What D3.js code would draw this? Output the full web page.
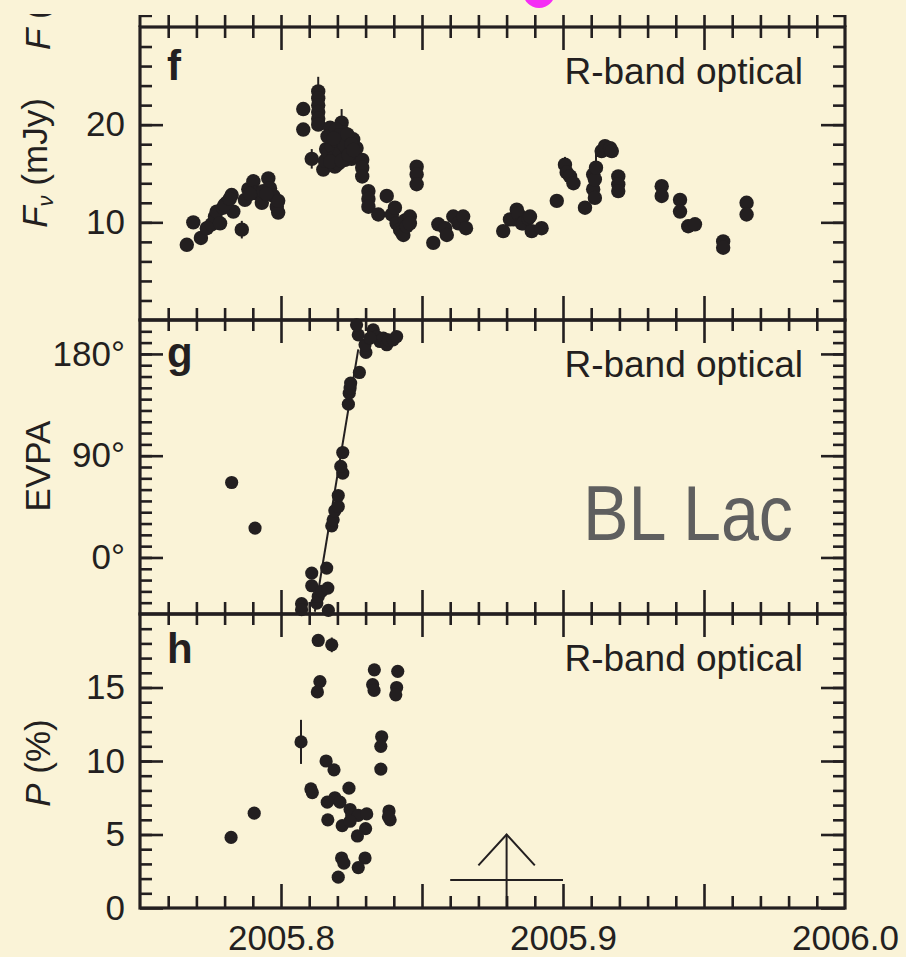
<!DOCTYPE html>
<html>
<head>
<meta charset="utf-8">
<script src="https://cdn.jsdelivr.net/npm/d3@7"></script>
<style>
  body { margin: 0; background: #faf3d7; }
  svg text { font-family: "Liberation Sans", Arial, Helvetica, sans-serif; fill: #231f20; }
</style>
</head>
<body>
<div id="chart"></div>
<script>

// ---- panel f : R-band flux (mJy) ----
var fluxTime = [
  2005.7666, 2005.7689, 2005.7716, 2005.7737, 2005.7754, 2005.7766, 2005.7772, 2005.7784, 2005.7795, 2005.7807,
  2005.7825, 2005.7831, 2005.7861, 2005.7872, 2005.7884, 2005.7902, 2005.7908, 2005.7932, 2005.7937, 2005.7955,
  2005.7961, 2005.7973, 2005.7985, 2005.7990, 2005.7990, 2005.8079, 2005.8079, 2005.8109, 2005.8132, 2005.8132,
  2005.8132, 2005.8132, 2005.8132, 2005.8132, 2005.8150, 2005.8156, 2005.8160, 2005.8168, 2005.8174, 2005.8180,
  2005.8185, 2005.8191, 2005.8198, 2005.8203, 2005.8209, 2005.8215, 2005.8221, 2005.8227, 2005.8233, 2005.8239,
  2005.8245, 2005.8250, 2005.8256, 2005.8262, 2005.8268, 2005.8288, 2005.8288, 2005.8288, 2005.8310, 2005.8310,
  2005.8310, 2005.8345, 2005.8375, 2005.8393, 2005.8404, 2005.8410, 2005.8422, 2005.8428, 2005.8434, 2005.8440,
  2005.8446, 2005.8457, 2005.8457, 2005.8481, 2005.8481, 2005.8481, 2005.8540, 2005.8558, 2005.8582, 2005.8588,
  2005.8611, 2005.8629, 2005.8646, 2005.8656, 2005.8788, 2005.8812, 2005.8824, 2005.8836, 2005.8841, 2005.8854,
  2005.8859, 2005.8877, 2005.8883, 2005.8889, 2005.8924, 2005.8978, 2005.9007, 2005.9013, 2005.9025, 2005.9037,
  2005.9078, 2005.9107, 2005.9107, 2005.9113, 2005.9113, 2005.9117, 2005.9137, 2005.9149, 2005.9167, 2005.9173,
  2005.9196, 2005.9196, 2005.9196, 2005.9350, 2005.9350, 2005.9415, 2005.9415, 2005.9444, 2005.9468, 2005.9568,
  2005.9568, 2005.9651, 2005.9651, 2005.8165, 2005.8195, 2005.8205, 2005.8225, 2005.8235, 2005.8250, 2005.8175,
  2005.8215, 2005.8240, 2005.8187, 2005.8257, 2005.7800, 2005.7818, 2005.7890, 2005.7948
];
var fluxVal = [
  7.7, 10.0, 8.4, 9.4, 9.8, 10.6, 11.1, 9.9, 11.5, 12.0,
  12.8, 11.1, 9.25, 12.3, 13.4, 14.2, 13.0, 12.0, 13.2, 14.5,
  13.5, 12.7, 11.6, 11.0, 12.2, 21.6, 19.5, 16.5, 23.4, 22.7,
  22.0, 21.3, 20.6, 20.0, 15.4, 16.3, 17.5, 17.1, 19.7, 17.8,
  16.6, 15.7, 18.3, 16.0, 17.1, 20.2, 19.2, 16.4, 17.6, 18.1,
  17.1, 16.5, 18.5, 16.8, 17.6, 16.4, 15.6, 14.7, 13.2, 12.4,
  11.6, 10.8, 12.7, 10.8, 11.5, 9.9, 9.25, 9.0, 8.7, 10.2,
  9.6, 10.6, 9.9, 15.7, 14.9, 13.9, 7.9, 9.8, 9.4, 8.7,
  10.6, 9.9, 10.6, 9.4, 9.1, 10.3, 10.3, 11.3, 10.9, 9.9,
  9.9, 10.4, 10.6, 9.1, 9.4, 12.2, 15.9, 15.1, 14.7, 14.0,
  11.5, 14.9, 13.4, 12.5, 14.4, 15.6, 17.3, 17.8, 17.6, 17.3,
  14.7, 13.9, 13.2, 13.7, 12.7, 12.3, 11.1, 9.6, 9.8, 8.05,
  7.4, 12.0, 10.8, 18.8, 19.5, 18.9, 17.9, 19.0, 18.0, 16.2,
  16.3, 16.9, 18.6, 17.4, 11.8, 12.4, 12.9, 12.9
];
var fluxErr = [
  0.4, 0.4, 0.4, 0.4, 0.4, 0.4, 0.4, 0.4, 0.4, 0.4,
  0.4, 0.4, 0.9, 0.4, 0.4, 0.4, 0.4, 0.4, 0.4, 0.4,
  0.4, 0.4, 0.4, 0.4, 0.4, 0.4, 0.4, 1.0, 1.5, 0.4,
  0.4, 0.4, 0.4, 0.4, 0.4, 0.4, 0.4, 0.4, 0.4, 0.4,
  0.4, 0.4, 0.4, 0.4, 0.4, 1.4, 0.4, 0.4, 0.4, 0.4,
  0.4, 0.4, 0.4, 0.4, 0.4, 0.4, 0.4, 0.4, 0.4, 0.4,
  0.4, 0.4, 0.4, 0.4, 0.4, 0.4, 0.4, 0.4, 0.4, 0.4,
  0.4, 0.4, 0.4, 0.4, 0.4, 0.4, 0.4, 0.4, 0.4, 0.4,
  0.4, 0.4, 0.4, 0.4, 0.4, 0.4, 0.4, 0.4, 0.4, 0.4,
  0.4, 0.4, 0.4, 0.4, 0.4, 0.4, 0.8, 0.4, 0.4, 0.4,
  0.4, 0.4, 0.4, 0.4, 0.4, 1.6, 0.4, 0.4, 0.4, 0.4,
  0.4, 0.4, 0.4, 0.4, 0.4, 0.4, 0.4, 0.4, 0.4, 0.4,
  0.4, 0.4, 0.4, 0.4, 0.4, 0.4, 0.4, 0.4, 0.4, 0.4,
  0.4, 0.4, 0.4, 0.4, 0.4, 0.4, 0.4, 0.4
];

// ---- panel g : EVPA (deg) ----
var evpaTime = [
  2005.7825, 2005.7908, 2005.8073, 2005.8073, 2005.8109, 2005.8109, 2005.8127, 2005.8132, 2005.8144, 2005.8162,
  2005.8166, 2005.8168, 2005.8180, 2005.8185, 2005.8191, 2005.8203, 2005.8203, 2005.8219, 2005.8212, 2005.8219,
  2005.8239, 2005.8242, 2005.8245, 2005.8247, 2005.8278, 2005.8301, 2005.8298, 2005.8274, 2005.8268, 2005.8327,
  2005.8339, 2005.8351, 2005.8363, 2005.8375, 2005.8381, 2005.8398, 2005.8410, 2005.8316
];
var evpaVal = [
  66.3, 26.0, -40.9, -46.2, -13.8, -25.0, -40.3, -34.5, -30.0, -9.4,
  -27.1, -46.8, 28.0, 33.3, 41.3, 45.1, 54.8, 74.6, 80.5, 92.8,
  135.6, 145.3, 149.8, 154.2, 163.6, 181.3, 188.1, 196.9, 205.7, 201.3,
  195.4, 191.0, 194.0, 188.1, 192.5, 192.5, 195.4, 194.0
];
// linear rotation fit drawn through the swing
var fitTime = [2005.8120, 2005.8274];
var fitVal = [-48, 184];

// ---- panel h : polarization degree (%) ----
var polTime = [
  2005.7823, 2005.7905, 2005.8071, 2005.8132, 2005.8180, 2005.8138, 2005.8129, 2005.8160, 2005.8188, 2005.8106,
  2005.8111, 2005.8241, 2005.8191, 2005.8164, 2005.8209, 2005.8245, 2005.8251, 2005.8274, 2005.8304, 2005.8166,
  2005.8217, 2005.8245, 2005.8300, 2005.8271, 2005.8215, 2005.8223, 2005.8298, 2005.8274, 2005.8203, 2005.8331,
  2005.8325, 2005.8330, 2005.8414, 2005.8410, 2005.8407, 2005.8357, 2005.8354, 2005.8354, 2005.8383, 2005.8387,
  2005.8381
];
var polVal = [
  4.8, 6.45, 11.3, 18.2, 17.9, 15.4, 14.7, 10.0, 9.4, 8.1,
  7.85, 8.15, 7.5, 7.2, 7.2, 6.7, 6.3, 6.3, 6.4, 6.0,
  5.6, 5.9, 5.4, 4.9, 3.4, 3.05, 3.4, 2.75, 2.1, 16.2,
  15.2, 14.8, 16.1, 15.0, 14.5, 11.65, 11.0, 9.45, 6.6, 6.0,
  6.2
];
var polErr = [
  0.3, 0.3, 1.5, 0.3, 0.5, 0.3, 0.3, 0.3, 0.3, 0.3,
  0.3, 0.3, 0.3, 0.3, 0.3, 0.3, 0.3, 0.3, 0.3, 0.3,
  0.3, 0.3, 0.3, 0.3, 0.3, 0.3, 0.3, 0.3, 0.3, 0.3,
  0.3, 0.3, 0.3, 0.3, 0.3, 0.3, 0.3, 0.3, 0.3, 0.3,
  0.3
];
// arrow marker in panel h: time, span, bar level, tip level, head base
var markTime = 2005.88, markSpan = [2005.86, 2005.90], markBar = 1.9, markTip = 5.0, markHead = [2005.87, 2005.89, 2.9];

// panel e (mostly cut off above): one magenta point
var eTime = [2005.8915];

// ---- ticks ----
var xLabelTicks = [2005.8, 2005.9, 2006.0];
var xMajor = [2005.8, 2005.85, 2005.9, 2005.95];
var fluxMajor = [10, 20], evpaMajor = [0, 90, 180], polMajor = [0, 5, 10, 15];
var evpaLabels = ["0°", "90°", "180°"];

var W = 906, H = 957, L = 140, R = 845;
var ink = "#231f20";

var svg = d3.select("#chart").append("svg")
    .attr("width", W).attr("height", H);
svg.append("rect").attr("width", W).attr("height", H).attr("fill", "#faf3d7");

var x = d3.scaleLinear().domain([2005.75, 2006.0]).range([L, R]);
var xMinor = d3.range(2005.76, 2005.995, 0.01).filter(function(v) {
  return Math.abs(v * 20 - Math.round(v * 20)) > 1e-6;
});

var panels = [
  {id: "f", top: 27, bottom: 320, y: d3.scaleLinear().domain([0, 30]).range([320, 27]),
   major: fluxMajor, minor: d3.range(2, 30, 2), fmt: function(d) { return d; }, letterY: 53},
  {id: "g", top: 320, bottom: 614, y: d3.scaleLinear().domain([-50, 210]).range([614, 320]),
   major: evpaMajor, minor: d3.range(-40, 210, 10), fmt: function(d, i) { return evpaLabels[i]; }, letterY: 47},
  {id: "h", top: 614, bottom: 908, y: d3.scaleLinear().domain([0, 20]).range([908, 614]),
   major: polMajor, minor: d3.range(1, 20, 1), fmt: function(d) { return d; }, letterY: 49}
];

function styleAxis(sel) {
  sel.select(".domain").remove();
  sel.selectAll("line").attr("stroke", ink).attr("stroke-width", 2.6);
  sel.selectAll("text").attr("font-size", 35).attr("font-family", "Liberation Sans, Arial, sans-serif").attr("fill", ink);
}

function ticks(axisFn, scale, values, size, fmt, pad) {
  var a = axisFn(scale).tickValues(values).tickSizeInner(-size).tickSizeOuter(0).tickPadding(pad || 3);
  a.tickFormat(fmt || "");
  return a;
}

// panel e remnant, clipped just above panel f
svg.append("clipPath").attr("id", "eclip").append("rect")
    .attr("x", 0).attr("y", 15).attr("width", W).attr("height", 12);
svg.append("clipPath").attr("id", "elabclip").append("rect")
    .attr("x", 0).attr("y", 14).attr("width", 100).attr("height", 60);
var eg = svg.append("g").attr("clip-path", "url(#eclip)");
eg.append("g").attr("transform", "translate(0,27)")
    .call(ticks(d3.axisBottom, x, xMinor.concat(xMajor), 14)).call(styleAxis);
eg.append("line").attr("x1", L).attr("x2", L).attr("y1", 15).attr("y2", 27).attr("stroke", ink).attr("stroke-width", 3);
eg.append("line").attr("x1", R).attr("x2", R).attr("y1", 15).attr("y2", 27).attr("stroke", ink).attr("stroke-width", 3);
eg.append("line").attr("x1", L).attr("x2", L + 12).attr("y1", 16).attr("y2", 16).attr("stroke", ink).attr("stroke-width", 2.4);
eg.append("line").attr("x1", R - 12).attr("x2", R).attr("y1", 16).attr("y2", 16).attr("stroke", ink).attr("stroke-width", 2.4);
svg.append("g").attr("clip-path", "url(#elabclip)")
  .append("text").attr("transform", "translate(50,50) rotate(-90)")
    .attr("font-size", 35).attr("text-anchor", "start")
    .html('<tspan font-style="italic">F</tspan> (mJy)');

svg.selectAll(".emark").data(eTime).enter().append("circle")
    .attr("cx", function(d) { return x(d); }).attr("cy", -8).attr("r", 16)
    .attr("fill", "#f52cf5");

panels.forEach(function(p, pi) {
  var g = svg.append("g").attr("class", "panel-" + p.id);
  var last = pi === panels.length - 1;

  // x ticks, bottom (pointing up) and top (pointing down)
  g.append("g").attr("transform", "translate(0," + p.bottom + ")")
      .call(ticks(d3.axisBottom, x, xMinor, 12)).call(styleAxis);
  g.append("g").attr("transform", "translate(0," + p.bottom + ")")
      .call(ticks(d3.axisBottom, x, xMajor, 24)).call(styleAxis);
  g.append("g").attr("transform", "translate(0," + p.top + ")")
      .call(ticks(d3.axisTop, x, xMinor, 11)).call(styleAxis);
  g.append("g").attr("transform", "translate(0," + p.top + ")")
      .call(ticks(d3.axisTop, x, xMajor, 23)).call(styleAxis);
  if (last) {
    g.append("g").attr("transform", "translate(0," + p.bottom + ")")
        .call(ticks(d3.axisBottom, x, xLabelTicks, 0, d3.format(".1f"), 17)).call(styleAxis)
        .selectAll("line").remove();
  }

  // y ticks left and right
  g.append("g").attr("transform", "translate(" + L + ",0)")
      .call(ticks(d3.axisLeft, p.y, p.minor, 12)).call(styleAxis);
  g.append("g").attr("transform", "translate(" + L + ",0)")
      .call(ticks(d3.axisLeft, p.y, p.major, 23, p.fmt, 15)).call(styleAxis);
  g.append("g").attr("transform", "translate(" + R + ",0)")
      .call(ticks(d3.axisRight, p.y, p.minor, 12)).call(styleAxis);
  g.append("g").attr("transform", "translate(" + R + ",0)")
      .call(ticks(d3.axisRight, p.y, p.major, 24)).call(styleAxis);

  g.append("rect").attr("x", L).attr("y", p.top)
      .attr("width", R - L).attr("height", p.bottom - p.top)
      .attr("fill", "none").attr("stroke", ink).attr("stroke-width", 3.2);

  g.append("text").attr("x", 167).attr("y", p.top + p.letterY)
      .attr("font-size", 42).attr("font-weight", "bold").text(p.id);
  g.append("text").attr("x", 803).attr("y", p.top + 57)
      .attr("font-size", 37).attr("text-anchor", "end").text("R-band optical");
});

var pf = panels[0], pg = panels[1], ph = panels[2];

function errBars(g, ts, vs, es, y) {
  g.selectAll(null).data(ts).enter().append("line")
      .attr("x1", function(d) { return x(d); }).attr("x2", function(d) { return x(d); })
      .attr("y1", function(d, i) { return y(vs[i] - es[i]); })
      .attr("y2", function(d, i) { return y(vs[i] + es[i]); })
      .attr("stroke", ink).attr("stroke-width", 2);
}
function dots(g, ts, vs, y, r) {
  g.selectAll(null).data(ts).enter().append("circle")
      .attr("cx", function(d) { return x(d); })
      .attr("cy", function(d, i) { return y(vs[i]); })
      .attr("r", r).attr("fill", ink);
}

// panel f
var gf = svg.append("g");
errBars(gf, fluxTime, fluxVal, fluxErr, pf.y);
dots(gf, fluxTime, fluxVal, pf.y, 7.2);

// panel g
var gg = svg.append("g");
gg.append("line")
    .attr("x1", x(fitTime[0])).attr("y1", pg.y(fitVal[0]))
    .attr("x2", x(fitTime[1])).attr("y2", pg.y(fitVal[1]))
    .attr("stroke", ink).attr("stroke-width", 2);
dots(gg, evpaTime, evpaVal, pg.y, 6.6);

// panel h
var gh = svg.append("g");
errBars(gh, polTime, polVal, polErr, ph.y);
dots(gh, polTime, polVal, ph.y, 6.6);
var mk = gh.append("g").attr("stroke", ink).attr("stroke-width", 2).attr("fill", "none");
mk.append("line").attr("x1", x(markTime)).attr("x2", x(markTime)).attr("y1", ph.y(0)).attr("y2", ph.y(markTip));
mk.append("line").attr("x1", x(markSpan[0])).attr("x2", x(markSpan[1])).attr("y1", ph.y(markBar)).attr("y2", ph.y(markBar));
mk.append("path").attr("d", d3.line()([
  [x(markHead[0]), ph.y(markHead[2])], [x(markTime), ph.y(markTip)], [x(markHead[1]), ph.y(markHead[2])]
]));

// y axis titles
var t1 = svg.append("text").attr("transform", "translate(47,163) rotate(-90)")
    .attr("font-size", 35).attr("text-anchor", "middle");
t1.append("tspan").attr("font-style", "italic").text("F");
t1.append("tspan").attr("font-size", 22).attr("dy", 6).attr("font-style", "italic").text("ν");
t1.append("tspan").attr("dy", -6).text(" (mJy)");

svg.append("text").attr("transform", "translate(50,466) rotate(-90)")
    .attr("font-size", 35).attr("text-anchor", "middle").text("EVPA");

var t3 = svg.append("text").attr("transform", "translate(50,763) rotate(-90)")
    .attr("font-size", 35).attr("text-anchor", "middle");
t3.append("tspan").attr("font-style", "italic").text("P");
t3.append("tspan").text(" (%)");

// source name
svg.append("text").attr("x", 583).attr("y", 540)
    .attr("font-family", "Lato, 'Open Sans', sans-serif").attr("font-size", 78)
    .attr("textLength", 210).attr("lengthAdjust", "spacingAndGlyphs")
    .style("fill", "#5f5f5f").text("BL Lac");

</script>
</body>
</html>
